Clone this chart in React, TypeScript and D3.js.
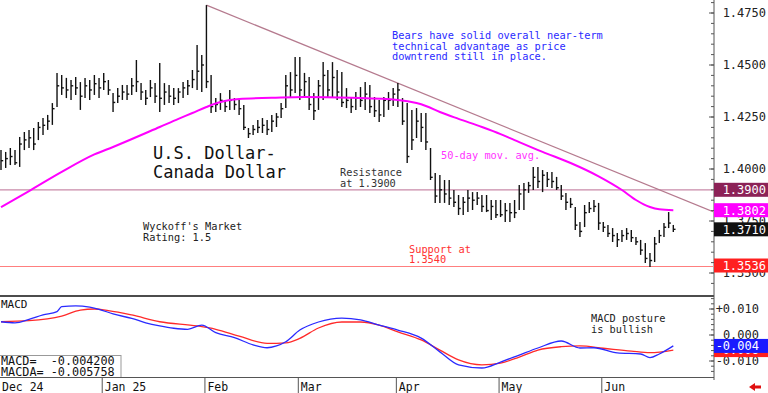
import * as d3 from "d3";

// daily bars, Dec 2 2024 .. Jun 23 2025 (weekdays, Jan 1 skipped)
const highs = [
  1.4091, 1.4082, 1.4101, 1.4091, 1.4154, 1.4178, 1.4188, 1.4197, 1.4226, 1.4245,
  1.4260, 1.4317, 1.4462, 1.4452, 1.4438, 1.4428, 1.4442, 1.4418, 1.4438, 1.4428,
  1.4452, 1.4438, 1.4462, 1.4428, 1.4365, 1.4389, 1.4404, 1.4404, 1.4438, 1.4524,
  1.4413, 1.4380, 1.4428, 1.4413, 1.4510, 1.4413, 1.4404, 1.4389, 1.4389, 1.4418,
  1.4428, 1.4476, 1.4596, 1.4548, 1.4788, 1.4452, 1.4341, 1.4365, 1.4332, 1.4380,
  1.4341, 1.4332, 1.4308, 1.4197, 1.4212, 1.4236, 1.4245, 1.4236, 1.4260, 1.4269,
  1.4317, 1.4452, 1.4466, 1.4538, 1.4538, 1.4462, 1.4442, 1.4365, 1.4428, 1.4514,
  1.4476, 1.4514, 1.4476, 1.4466, 1.4389, 1.4346, 1.4370, 1.4394, 1.4418, 1.4404,
  1.4346, 1.4332, 1.4346, 1.4370, 1.4389, 1.4413, 1.4341, 1.4317, 1.4284, 1.4293,
  1.4269, 1.4269, 1.4101, 1.3981, 1.3971, 1.3947, 1.3947, 1.3899, 1.3875, 1.3865,
  1.3899, 1.3889, 1.3889, 1.3875, 1.3875, 1.3851, 1.3851, 1.3851, 1.3837, 1.3837,
  1.3851, 1.3923, 1.3933, 1.3938, 1.4010, 1.4010, 1.3995, 1.3986, 1.3986, 1.3962,
  1.3923, 1.3885, 1.3861, 1.3817, 1.3745, 1.3827, 1.3841, 1.3851, 1.3837, 1.3745,
  1.3731, 1.3716, 1.3692, 1.3707, 1.3716, 1.3707, 1.3673, 1.3659, 1.3644, 1.3596,
  1.3673, 1.3707, 1.3740, 1.3793, 1.3731,
];
const lows = [
  1.3995, 1.4005, 1.4019, 1.4019, 1.4010, 1.4091, 1.4101, 1.4091, 1.4139, 1.4163,
  1.4188, 1.4212, 1.4298, 1.4356, 1.4341, 1.4332, 1.4356, 1.4284, 1.4341, 1.4332,
  1.4356, 1.4341, 1.4380, 1.4356, 1.4274, 1.4317, 1.4332, 1.4332, 1.4356, 1.4370,
  1.4332, 1.4308, 1.4346, 1.4317, 1.4274, 1.4308, 1.4317, 1.4308, 1.4317, 1.4341,
  1.4356, 1.4389, 1.4380, 1.4370, 1.4389, 1.4269, 1.4274, 1.4284, 1.4274, 1.4284,
  1.4284, 1.4260, 1.4188, 1.4149, 1.4163, 1.4173, 1.4173, 1.4163, 1.4178, 1.4202,
  1.4245, 1.4293, 1.4346, 1.4365, 1.4332, 1.4346, 1.4284, 1.4236, 1.4284, 1.4332,
  1.4346, 1.4346, 1.4332, 1.4298, 1.4293, 1.4269, 1.4284, 1.4298, 1.4284, 1.4269,
  1.4250, 1.4226, 1.4250, 1.4284, 1.4303, 1.4298, 1.4212, 1.4029, 1.4091, 1.4149,
  1.4130, 1.4091, 1.3947, 1.3837, 1.3837, 1.3837, 1.3827, 1.3817, 1.3779, 1.3779,
  1.3793, 1.3803, 1.3827, 1.3793, 1.3793, 1.3755, 1.3764, 1.3769, 1.3745, 1.3745,
  1.3764, 1.3803, 1.3803, 1.3885, 1.3899, 1.3909, 1.3889, 1.3913, 1.3909, 1.3899,
  1.3851, 1.3803, 1.3813, 1.3707, 1.3673, 1.3721, 1.3788, 1.3793, 1.3707, 1.3697,
  1.3673, 1.3649, 1.3625, 1.3649, 1.3659, 1.3649, 1.3635, 1.3587, 1.3548, 1.3529,
  1.3553, 1.3644, 1.3673, 1.3716, 1.3697,
];
const closes = [
  1.4040, 1.4050, 1.4060, 1.4030, 1.4120, 1.4140, 1.4150, 1.4120, 1.4200, 1.4210,
  1.4230, 1.4290, 1.4400, 1.4390, 1.4380, 1.4400, 1.4390, 1.4350, 1.4400, 1.4380,
  1.4410, 1.4390, 1.4420, 1.4380, 1.4320, 1.4350, 1.4370, 1.4360, 1.4400, 1.4420,
  1.4370, 1.4340, 1.4390, 1.4350, 1.4340, 1.4370, 1.4350, 1.4340, 1.4370, 1.4390,
  1.4400, 1.4430, 1.4470, 1.4500, 1.4420, 1.4300, 1.4310, 1.4330, 1.4300, 1.4330,
  1.4310, 1.4290, 1.4200, 1.4170, 1.4190, 1.4200, 1.4210, 1.4190, 1.4230, 1.4250,
  1.4290, 1.4400, 1.4380, 1.4450, 1.4380, 1.4420, 1.4310, 1.4280, 1.4400, 1.4450,
  1.4380, 1.4440, 1.4370, 1.4320, 1.4330, 1.4300, 1.4340, 1.4330, 1.4360, 1.4300,
  1.4280, 1.4260, 1.4330, 1.4330, 1.4360, 1.4380, 1.4230, 1.4060, 1.4140, 1.4230,
  1.4200, 1.4130, 1.3960, 1.3870, 1.3900, 1.3880, 1.3860, 1.3840, 1.3810, 1.3840,
  1.3860, 1.3850, 1.3860, 1.3820, 1.3800, 1.3820, 1.3780, 1.3780, 1.3800, 1.3790,
  1.3790, 1.3880, 1.3900, 1.3920, 1.3960, 1.3940, 1.3970, 1.3950, 1.3940, 1.3910,
  1.3870, 1.3840, 1.3830, 1.3730, 1.3700, 1.3790, 1.3810, 1.3820, 1.3740, 1.3720,
  1.3690, 1.3680, 1.3660, 1.3680, 1.3690, 1.3670, 1.3650, 1.3610, 1.3570, 1.3560,
  1.3640, 1.3680, 1.3720, 1.3740, 1.3710,
];

// 50-day moving average (bar index, value)
const maIdx = [0, 6, 13, 20, 24, 34, 38, 41, 44, 47, 51, 58, 65, 75, 85, 89, 91, 94, 98, 103, 107, 110, 116, 122, 128, 133, 136, 139, 141, 144];
const maVal = [1.3817, 1.3894, 1.3986, 1.407, 1.4106, 1.4202, 1.4241, 1.4269, 1.4298, 1.4322, 1.4337, 1.4342, 1.4346, 1.4342, 1.4332, 1.4317, 1.4303, 1.4274, 1.4241, 1.4202, 1.4168, 1.4139, 1.4082, 1.4029, 1.3965, 1.3899, 1.3851, 1.3817, 1.3806, 1.3802];

// MACD (blue) and signal (red)
const macdIdx = [0, 3, 6, 9, 12, 13, 16, 19, 21, 24, 28, 31, 34, 37, 40, 43, 46, 50, 54, 57, 59, 61, 64, 68, 73, 77, 81, 85, 90, 94, 98, 103, 107, 111, 115, 120, 124, 127, 132, 137, 139, 141, 144];
const macdVal = [0.0051, 0.0047, 0.006, 0.0077, 0.009, 0.0109, 0.0112, 0.0107, 0.0099, 0.0081, 0.0064, 0.0047, 0.0035, 0.0026, 0.0022, 0.0038, 0.0009, -0.001, -0.0038, -0.0049, -0.0042, -0.0026, 0.0019, 0.005, 0.0065, 0.0058, 0.0038, 0.0019, -0.0012, -0.0065, -0.0115, -0.0127, -0.0104, -0.0077, -0.005, -0.0023, -0.005, -0.0049, -0.0069, -0.0073, -0.0087, -0.0073, -0.0042];
const sigIdx = [0, 6, 13, 17, 20, 23, 28, 34, 42, 46, 51, 57, 61, 64, 68, 73, 77, 81, 85, 90, 94, 98, 103, 107, 111, 115, 120, 124, 129, 135, 139, 144];
const sigVal = [0.0051, 0.0055, 0.0073, 0.0096, 0.01, 0.0094, 0.0077, 0.0051, 0.0035, 0.0022, -0.0004, -0.0032, -0.003, -0.0013, 0.0027, 0.005, 0.005, 0.0038, 0.0012, -0.0019, -0.0058, -0.0096, -0.0115, -0.0108, -0.0085, -0.0058, -0.0045, -0.0042, -0.0051, -0.0062, -0.0068, -0.0058];
const macdReadout = ["MACD=  -0.004200", "MACDA= -0.005758"];

const trendIdx = [44, 152.5];
const trendVal = [1.4788, 1.3795];
const resistance = 1.39;
const support = 1.3536;

const priceTicks = [1.35, 1.375, 1.4, 1.425, 1.45, 1.475];
const macdTicks = [0.01, 0, -0.01];
const macdTickLabels = ["+0.010", "0.000", "-0.010"];
const monthLabels = ["Dec 24", "Jan 25", "Feb", "Mar", "Apr", "May", "Jun"];

const MONO = "'DejaVu Sans Mono', 'Liberation Mono', monospace";

export default function App() {
  const W = 768;
  const H = 393;
  const plotR = 713;

  const dates: Date[] = [];
  const d = new Date(2024, 11, 2);
  while (dates.length < highs.length) {
    const wd = d.getDay();
    if (wd !== 0 && wd !== 6 && !(d.getMonth() === 0 && d.getDate() === 1)) dates.push(new Date(d));
    d.setDate(d.getDate() + 1);
  }
  const monthStarts = dates
    .map((dt, i) => (i === 0 || dt.getMonth() !== dates[i - 1].getMonth() ? i : -1))
    .filter((i) => i >= 0);

  const x = d3.scaleLinear().domain([0, 152.5]).range([1, plotR]);
  const yP = d3.scaleLinear().domain([1.4, 1.475]).range([169, 13]);
  const yM = d3.scaleLinear().domain([0, 0.01]).range([335, 309]);

  const maLine = d3
    .line<number>()
    .x((_, i) => x(maIdx[i]))
    .y((v) => yP(v))
    .curve(d3.curveMonotoneX)(maVal)!;
  const macdLine = d3
    .line<number>()
    .x((_, i) => x(macdIdx[i]))
    .y((v) => yM(v))
    .curve(d3.curveMonotoneX)(macdVal)!;
  const sigLine = d3
    .line<number>()
    .x((_, i) => x(sigIdx[i]))
    .y((v) => yM(v))
    .curve(d3.curveMonotoneX)(sigVal)!;

  const minorP = d3.range(1.345, 1.4801, 0.005);
  const minorM = d3.range(-0.014, 0.0141, 0.002);

  const lastClose = closes[closes.length - 1];
  const lastMa = maVal[maVal.length - 1];
  const lastMacd = macdVal[macdVal.length - 1];
  const lastSig = sigVal[sigVal.length - 1];

  const boxes = [
    { v: yP(resistance), label: resistance.toFixed(4), fill: "#8c2257" },
    { v: yP(lastMa), label: lastMa.toFixed(4), fill: "#ff00ff" },
    { v: yP(lastClose), label: lastClose.toFixed(4), fill: "#111111" },
    { v: yP(support), label: support.toFixed(4), fill: "#ff2020" },
    { v: yM(lastSig), label: lastSig.toFixed(3), fill: "#ff2020" },
    { v: yM(lastMacd), label: lastMacd.toFixed(3), fill: "#1a1aff" },
  ];

  const txt = { fontFamily: MONO, fontSize: 10.3 } as const;

  return (
    <svg
      width={W}
      height={H}
      style={{ position: "absolute", left: 0, top: 0, background: "#fff" }}
    >
      <defs>
        <clipPath id="pp">
          <rect x={0} y={0} width={plotR} height={295} />
        </clipPath>
        <clipPath id="mp">
          <rect x={0} y={297} width={plotR} height={79} />
        </clipPath>
      </defs>

      {/* price pane */}
      <g clipPath="url(#pp)">
        <line x1={0} x2={plotR} y1={yP(resistance)} y2={yP(resistance)} stroke="#c98aa8" strokeWidth={1.2} />
        <line x1={0} x2={plotR} y1={yP(support) + 1} y2={yP(support) + 1} stroke="#ff7f7f" strokeWidth={1.2} />
        <line
          x1={x(trendIdx[0])}
          y1={yP(trendVal[0])}
          x2={x(trendIdx[1])}
          y2={yP(trendVal[1])}
          stroke="#b57a8e"
          strokeWidth={1.2}
        />
        {highs.map((h, i) => (
          <g key={i} stroke="#111" strokeWidth={1.4}>
            <line x1={x(i)} x2={x(i)} y1={yP(h)} y2={yP(lows[i])} />
            <line x1={x(i)} x2={x(i) + 2.2} y1={yP(closes[i])} y2={yP(closes[i])} />
          </g>
        ))}
        <path d={maLine} fill="none" stroke="#ff00ff" strokeWidth={2} />
      </g>

      <text x={392} y={39} fill="#2a2aff" {...txt}>Bears have solid overall near-term</text>
      <text x={392} y={49.5} fill="#2a2aff" {...txt}>technical advantage as price</text>
      <text x={392} y={60} fill="#2a2aff" {...txt}>downtrend still in place.</text>

      <text x={153} y={159} fill="#111" fontFamily={MONO} fontSize={17}>U.S. Dollar-</text>
      <text x={153} y={178} fill="#111" fontFamily={MONO} fontSize={17}>Canada Dollar</text>

      <text x={340} y={176} fill="#333" {...txt}>Resistance</text>
      <text x={340} y={186.5} fill="#333" {...txt}>at 1.3900</text>

      <text x={441} y={159} fill="#ff33ff" {...txt}>50-day mov. avg.</text>

      <text x={143} y={230} fill="#222" {...txt}>Wyckoff's Market</text>
      <text x={143} y={240.5} fill="#222" {...txt}>Rating: 1.5</text>

      <text x={409} y={253} fill="#ff3030" {...txt}>Support at</text>
      <text x={409} y={263} fill="#ff3030" {...txt}>1.3540</text>

      {/* MACD pane */}
      <line x1={0} x2={plotR + 1} y1={296} y2={296} stroke="#111" strokeWidth={1.3} />
      <g clipPath="url(#mp)">
        <path d={sigLine} fill="none" stroke="#ff2a2a" strokeWidth={1.3} />
        <path d={macdLine} fill="none" stroke="#2a2aff" strokeWidth={1.3} />
      </g>
      <text x={1} y={308} fill="#111" fontFamily={MONO} fontSize={11}>MACD</text>
      <text x={591} y={322} fill="#222" {...txt}>MACD posture</text>
      <text x={591} y={333} fill="#222" {...txt}>is bullish</text>

      <rect x={-1} y={355.5} width={122} height={22} fill="#fff" stroke="#999" />
      {macdReadout.map((s, i) => (
        <text key={s} x={1} y={365 + i * 11} fill="#111" fontFamily={MONO} fontSize={11.8} style={{ whiteSpace: "pre" }}>
          {s}
        </text>
      ))}

      {/* date row */}
      <line x1={0} x2={plotR + 1} y1={377.5} y2={377.5} stroke="#555" />
      {monthStarts.map((mi, k) => (
        <g key={k}>
          <line x1={x(mi) - 1.5} x2={x(mi) - 1.5} y1={377} y2={393} stroke="#555" />
          <text x={x(mi) + 1} y={391} fill="#111" fontFamily={MONO} fontSize={11.5}>
            {monthLabels[k]}
          </text>
        </g>
      ))}

      {/* right axis */}
      <line x1={plotR + 1} x2={plotR + 1} y1={0} y2={380} stroke="#555" />
      {minorP.map((v, i) => (
        <line key={"mp" + i} x1={plotR - 2} x2={plotR + 1} y1={yP(v)} y2={yP(v)} stroke="#555" />
      ))}
      {minorM.map((v, i) => (
        <line key={"mm" + i} x1={plotR - 2} x2={plotR + 1} y1={yM(v)} y2={yM(v)} stroke="#555" />
      ))}
      {priceTicks.map((v) => (
        <g key={v}>
          <line x1={plotR - 4} x2={plotR + 1} y1={yP(v)} y2={yP(v)} stroke="#555" />
          <text x={766} y={yP(v)} dy="0.36em" textAnchor="end" fill="#222" fontFamily={MONO} fontSize={12}>
            {v.toFixed(4)}
          </text>
        </g>
      ))}
      {macdTicks.map((v, i) => (
        <g key={"m" + v}>
          <line x1={plotR - 4} x2={plotR + 1} y1={yM(v)} y2={yM(v)} stroke="#555" />
          <text x={759} y={yM(v)} dy="0.36em" textAnchor="end" fill="#222" fontFamily={MONO} fontSize={12}>
            {macdTickLabels[i]}
          </text>
        </g>
      ))}
      {boxes.map((b, i) => (
        <g key={"b" + i}>
          <rect x={plotR + 1} y={b.v - 7} width={W - plotR} height={14} fill={b.fill} />
          <text
            x={i >= 4 ? 759 : 766}
            y={b.v}
            dy="0.36em"
            textAnchor="end"
            fill="#fff"
            fontFamily={MONO}
            fontSize={12}
          >
            {b.label}
          </text>
        </g>
      ))}

      <path d="M749,387 l6,-4 v2.5 h6 v3 h-6 v2.5 z" fill="#e01010" />
    </svg>
  );
}
